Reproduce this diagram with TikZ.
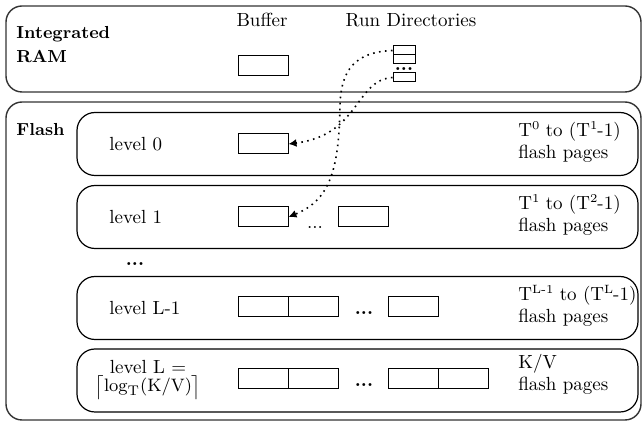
\documentclass[tikz,border=0pt]{standalone}
\usetikzlibrary{arrows.meta}
\newcommand\mysup[1]{\raisebox{0.85ex}{\fontsize{6}{6}\selectfont #1}}
\begin{document}
\begin{tikzpicture}[x=0.5pt,y=-0.5pt,
  font=\fontsize{9.5}{11}\selectfont,
  panel/.style={draw=black!80, line width=0.7pt, rounded corners=8pt, minimum width=317.5pt, inner sep=0pt},
  levelbox/.style={draw=black, line width=0.6pt, rounded corners=9pt, minimum width=280.5pt, minimum height=31.5pt, inner sep=0pt, fill=white},
  page/.style={draw=black, line width=0.5pt, minimum width=25pt, minimum height=10pt, inner sep=0pt, fill=white},
  dirbox/.style={page, minimum width=11pt, minimum height=4.5pt},
  title/.style={font=\fontsize{8.7}{12}\selectfont\bfseries, inner sep=0pt},
  bdots/.style={anchor=base, font=\fontsize{9.5}{11}\selectfont\bfseries},
  ltext/.style={anchor=west, inner sep=0pt},
  rtext/.style={anchor=west, align=left, inner sep=0pt},
  dotarrow/.style={line width=0.8pt, dash pattern=on 0.8pt off 2.2pt, -{Latex[length=4pt,width=4pt]}}
]
\fill[white] (0,0) rectangle (644,422);
\useasboundingbox (0,0) rectangle (644,422);

% panels
\node[panel, minimum height=43pt] (ram) at (323.5,49) {};
\node[panel, minimum height=159pt] (flash) at (323.5,261) {};

\node[title, anchor=west, align=left] (ramt) at (16,45) {Integrated\\RAM};
\node[title, anchor=west] (flasht) at (16,130) {Flash};

% RAM contents
\node (buft) at (262,20) {Buffer};
\node (rdt) at (411,20) {Run Directories};
\node[page] (buf) at (263,66) {};
\node[dirbox] (rd1) at (404,50.5) {};
\node[dirbox] (rd2) at (404,59.5) {};
\node[bdots] (rdd) at (404,71) {...};
\node[dirbox] (rd3) at (404,77.5) {};

% levels
\node[levelbox] (lv0) at (357.5,144) {};
\node[levelbox] (lv1) at (357.5,217) {};
\node[levelbox] (lvL1) at (357.5,308) {};
\node[levelbox] (lvL) at (357.5,380.5) {};

\node[ltext] (lv0t) at (109,144) {level 0};
\node[ltext] (lv1t) at (109,217) {level 1};
\node[ltext] (lvL1t) at (109,308) {level L-1};
\node[align=center] (lvLt) at (148,380) {level L =\\[-2pt]$\bigl\lceil\mathrm{log_T(K/V)}\bigr\rceil$};

\node[rtext] (lv0r) at (518,142) {T\mysup{0} to (T\mysup{1}-1)\\flash pages};
\node[rtext] (lv1r) at (518,215) {T\mysup{1} to (T\mysup{2}-1)\\flash pages};
\node[rtext] (lvL1r) at (518,306) {T\mysup{L-1} to (T\mysup{L}-1)\\flash pages};
\node[rtext] (lvLr) at (518,374) {K/V\\flash pages};

\node[bdots] (dl) at (135,266) {...};

% pages
\node[page] (p00) at (263,144) {};
\node[page] (p10) at (263,217) {};
\node[page] (p11) at (363,217) {};
\node[anchor=base] (d1) at (315,229) {...};
\node[page] (p20) at (263,307) {};
\node[page] (p21) at (313,307) {};
\node[bdots] (d2) at (364,315) {...};
\node[page] (p22) at (413,307) {};
\node[page] (p30) at (263,379) {};
\node[page] (p31) at (313,379) {};
\node[bdots] (d3) at (364,387) {...};
\node[page] (p32) at (413,379) {};
\node[page] (p33) at (463,379) {};

% connectors
\draw[dotarrow] (rd1.west) .. controls (355,52) and (341,70) .. (340,105)
   .. controls (339,170) and (330,200) .. (p10.east);
\draw[dotarrow] (rd3.west) .. controls (355,80) and (360,135) .. (p00.east);
\end{tikzpicture}
\end{document}
